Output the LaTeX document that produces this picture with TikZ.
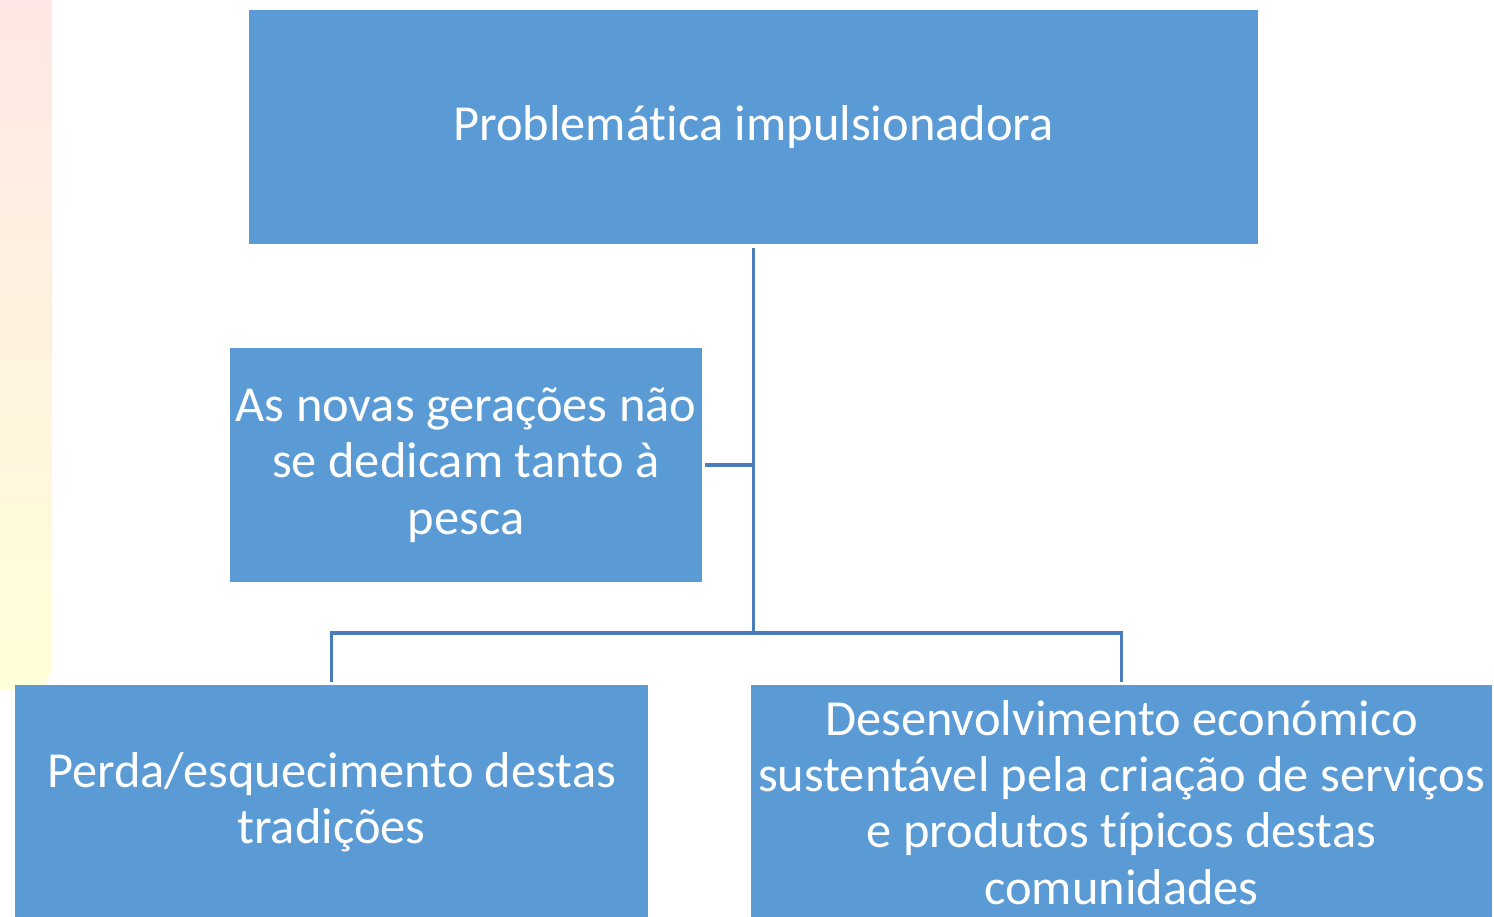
\documentclass[tikz,border=0pt]{standalone}
\usepackage{fontspec}
\setmainfont{Carlito}[Ligatures=NoCommon]
\usetikzlibrary{positioning}

\definecolor{boxblue}{HTML}{5B9BD5}
\definecolor{lineblue}{HTML}{4A7EBB}

\tikzset{
  caixa/.style={rectangle,fill=boxblue,text=white,align=center,inner sep=2pt,
    font=\fontsize{28.7}{32}\selectfont},
  ligacao/.style={lineblue,line width=1.9pt}
}

\begin{document}
\begin{tikzpicture}

    \useasboundingbox (0,0) rectangle (29.88,-18.32);
    \clip (0,0) rectangle (29.88,-18.32);
    \fill[white] (0,0) rectangle (29.88,-18.32);
    \shade[top color=red!10,bottom color=yellow!15,rounded corners=0.5cm] (-1,1) rectangle (1.04,-13.8); % faixa lateral

    \node[caixa,minimum width=20.18cm,minimum height=4.68cm] (topo) at (15.07,-2.54) {Problemática impulsionadora};
    \node[caixa,minimum width=9.44cm,minimum height=4.68cm] (geracoes) at (9.32,-9.30) {As novas gerações não\\se dedicam tanto à\\pesca};
    \node[caixa,minimum width=12.66cm,minimum height=4.7cm] (perda) at (6.63,-16.05) {Perda/esquecimento destas\\tradições};
    \node[caixa,minimum width=14.82cm,minimum height=4.7cm] (desenv) at (22.43,-16.05) {Desenvolvimento económico\\sustentável pela criação de serviços\\e produtos típicos destas\\comunidades};

    \coordinate (juncao) at (topo.south |- 0,-12.66);

    \draw[ligacao,shorten <=0.08cm] (topo.south) -- (juncao);
    \draw[ligacao,shorten <=0.06cm] (geracoes.east) -- (geracoes.east -| topo.south);
    \draw[ligacao,shorten >=0.06cm] (juncao) -| (perda.north);
    \draw[ligacao,shorten >=0.06cm] (juncao) -| (desenv.north);

\end{tikzpicture}
\end{document}
